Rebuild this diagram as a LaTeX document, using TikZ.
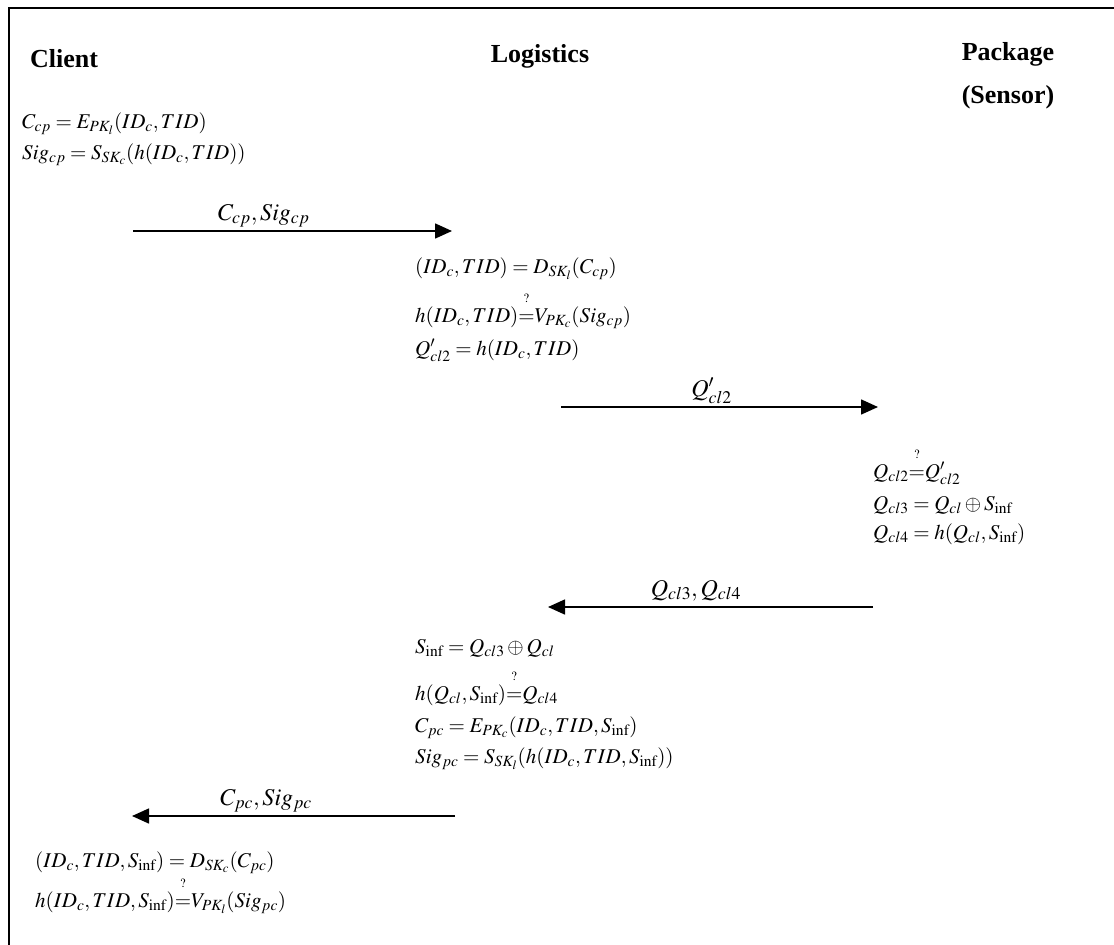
\documentclass[tikz,border=0pt]{standalone}
\usepackage{amsmath}
\usepackage{mathptmx}
\usepackage{fontspec}
\setmainfont{Liberation Serif}
\usetikzlibrary{arrows.meta}

\newcommand{\qeq}{{\overset{\raisebox{8pt}{$\scriptscriptstyle ?$}}{=}}}

\begin{document}
\begin{tikzpicture}[x=1pt,y=-1pt,
      party/.style={inner sep=0pt,font=\fontsize{26}{30}\selectfont\bfseries},
      eqn/.style={anchor=base west,inner sep=0pt,font=\fontsize{21}{25}\selectfont},
      msg/.style={-{Triangle[length=17pt,width=15pt]},line width=1.6pt},
      lbl/.style={anchor=base,inner sep=0pt,yshift=11pt,font=\fontsize{24}{28}\selectfont}]

    \useasboundingbox (0,0) rectangle (1114,945);
    \draw[line width=2.8pt] (9,945) -- (9,8) -- (1114,8);

    % the three parties
    \node[party,anchor=base west] (client)    at (30,67)   {Client};
    \node[party,anchor=base]      (logistics) at (540,62)  {Logistics};
    \node[party,anchor=base]      (package)   at (1008,60) {Package};
    \node[party,anchor=base]      (sensor)    at (1008,103){(Sensor)};

    % client side
    \node[eqn] (c1) at (22,128) {$C_{cp} = E_{PK_l}(ID_c, TID)$};
    \node[eqn] (c2) at (22,159) {$Sig_{cp} = S_{SK_c}(h(ID_c, TID))$};

    \coordinate (m1s) at (133,231);
    \coordinate (m1e) at (452,231);
    \draw[msg] (m1s) -- node[lbl,pos=0.41] (m1) {$C_{cp}, Sig_{cp}$} (m1e);

    % logistics checks the request
    \node[eqn] (l1) at (415,273) {$(ID_c, TID) = D_{SK_l}(C_{cp})$};
    \node[eqn] (l2) at (415,322) {$h(ID_c, TID)\qeq V_{PK_c}(Sig_{cp})$};
    \node[eqn] (l3) at (415,355) {$Q'_{cl2} = h(ID_c, TID)$};

    \coordinate (m2s) at (561,407);
    \coordinate (m2e) at (878,407);
    \draw[msg] (m2s) -- node[lbl,pos=0.475] (m2) {$Q'_{cl2}$} (m2e);

    % package (sensor)
    \node[eqn] (p1) at (873,478) {$Q_{cl2}\qeq Q'_{cl2}$};
    \node[eqn] (p2) at (873,510) {$Q_{cl3} = Q_{cl} \oplus S_{\inf}$};
    \node[eqn] (p3) at (873,539) {$Q_{cl4} = h(Q_{cl}, S_{\inf})$};

    \coordinate (m3s) at (873,607);
    \coordinate (m3e) at (548,607);
    \draw[msg] (m3s) -- node[lbl,pos=0.545] (m3) {$Q_{cl3}, Q_{cl4}$} (m3e);

    % logistics answers
    \node[eqn] (r1) at (415,653) {$S_{\inf} = Q_{cl3} \oplus Q_{cl}$};
    \node[eqn] (r2) at (415,700) {$h(Q_{cl}, S_{\inf})\qeq Q_{cl4}$};
    \node[eqn] (r3) at (415,732) {$C_{pc} = E_{PK_c}(ID_c, TID, S_{\inf})$};
    \node[eqn] (r4) at (415,763) {$Sig_{pc} = S_{SK_l}(h(ID_c, TID, S_{\inf}))$};

    \coordinate (m4s) at (455,816);
    \coordinate (m4e) at (132,816);
    \draw[msg] (m4s) -- node[lbl,pos=0.585] (m4) {$C_{pc}, Sig_{pc}$} (m4e);

    % client verifies
    \node[eqn] (v1) at (35,867) {$(ID_c, TID, S_{\inf}) = D_{SK_c}(C_{pc})$};
    \node[eqn] (v2) at (35,907) {$h(ID_c, TID, S_{\inf})\qeq V_{PK_l}(Sig_{pc})$};
\end{tikzpicture}
\end{document}
